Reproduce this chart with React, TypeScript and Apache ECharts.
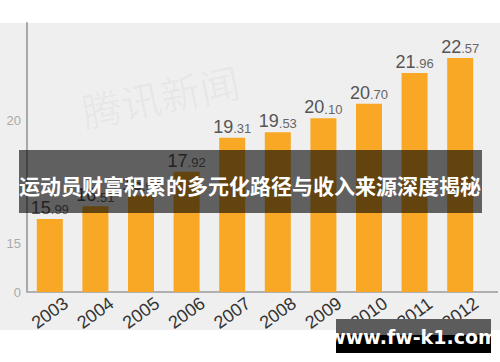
import React, { useEffect, useRef } from "react";
import * as echarts from "echarts";

const years = ["2003", "2004", "2005", "2006", "2007", "2008", "2009", "2010", "2011", "2012"];
const values = [15.99, 16.51, 16.95, 17.92, 19.31, 19.53, 20.1, 20.7, 21.96, 22.57];
const yLabels: Record<number, string> = { 13: "0", 15: "15", 20: "20" };
const bannerTitle = "运动员财富积累的多元化路径与收入来源深度揭秘";
const siteText = "www.fw-k1.com";

export default function App() {
  const ref = useRef<HTMLDivElement>(null);
  useEffect(() => {
    if (!ref.current) return;
    const chart = echarts.init(ref.current, null, { renderer: "svg" });
    chart.setOption({
      animation: false,
      backgroundColor: "#ffffff",
      grid: { left: 27, right: 17, top: 23, bottom: 70, containLabel: false },
      xAxis: {
        type: "category",
        data: years,
        axisLine: { lineStyle: { color: "#b0b0b0", width: 2 } },
        axisTick: { show: false },
        axisLabel: {
          rotate: 36,
          fontSize: 18,
          color: "#333",
          margin: 21,
          align: "center",
          verticalAlign: "middle",
          fontFamily: "Liberation Sans, Arial, sans-serif",
        },
      },
      yAxis: {
        type: "value",
        min: 13,
        max: 24,
        interval: 1,
        axisLine: { show: true, lineStyle: { color: "#a8a8a8", width: 2 } },
        axisTick: { show: false },
        splitLine: { show: false },
        axisLabel: {
          color: "#aaaaaa",
          fontSize: 13,
          margin: 6,
          fontFamily: "Liberation Sans, Arial, sans-serif",
          formatter: (v: number) => yLabels[v] ?? "",
        },
      },
      graphic: [
        {
          type: "rect",
          z: -10,
          silent: true,
          shape: { x: 0, y: 23, width: 500, height: 307 },
          style: { fill: "#efefef" },
        },
        {
          type: "line",
          z: -5,
          shape: { x1: 483, y1: 292, x2: 498, y2: 292 },
          style: { stroke: "#b0b0b0", lineWidth: 2 },
        },
        {
          type: "text",
          z: -5,
          x: 78,
          y: 92,
          rotation: 0.2,
          style: {
            text: "腾讯新闻",
            fontSize: 40,
            fill: "rgba(0,0,0,0.04)",
            fontFamily: "Noto Sans CJK SC",
          },
        },
        {
          type: "rect",
          z: 100,
          shape: { x: 19, y: 150, width: 463, height: 63 },
          style: { fill: "rgba(0,0,0,0.6)" },
        },
        {
          type: "text",
          z: 101,
          x: 250,
          y: 185,
          style: {
            text: bannerTitle,
            fill: "#ffffff",
            fontSize: 21,
            fontWeight: "bold",
            fontFamily: "Noto Sans CJK SC",
            align: "center",
            verticalAlign: "middle",
          },
        },
        {
          type: "rect",
          z: 100,
          shape: { x: 336, y: 319, width: 155, height: 16 },
          style: { fill: "#5c5c5c" },
        },
        {
          type: "rect",
          z: 100,
          shape: { x: 336, y: 335, width: 155, height: 18 },
          style: { fill: "#000000" },
        },
        {
          type: "text",
          z: 101,
          x: 413,
          y: 337,
          style: {
            text: siteText,
            fill: "#ffffff",
            fontSize: 19,
            fontWeight: "bold",
            fontFamily: "DejaVu Sans",
            align: "center",
            verticalAlign: "middle",
          },
        },
      ],
      series: [
        {
          type: "bar",
          data: values,
          barWidth: 26,
          itemStyle: { color: "#f8a824" },
          label: {
            show: true,
            position: "top",
            distance: 2,
            formatter: (p: any) => {
              const s = (p.value as number).toFixed(2);
              const [a, b] = s.split(".");
              return `{i|${a}}{d|.${b}}`;
            },
            rich: {
              i: { fontSize: 18, color: "#555", fontFamily: "Liberation Sans, Arial, sans-serif" },
              d: { fontSize: 13, color: "#666", fontFamily: "Liberation Sans, Arial, sans-serif", padding: [4, 0, 0, 0] },
            },
          },
        },
      ],
    });
    return () => chart.dispose();
  }, []);
  return (
    <div
      ref={ref}
      style={{ position: "fixed", left: 0, top: 0, width: 500, height: 362 }}
    />
  );
}
